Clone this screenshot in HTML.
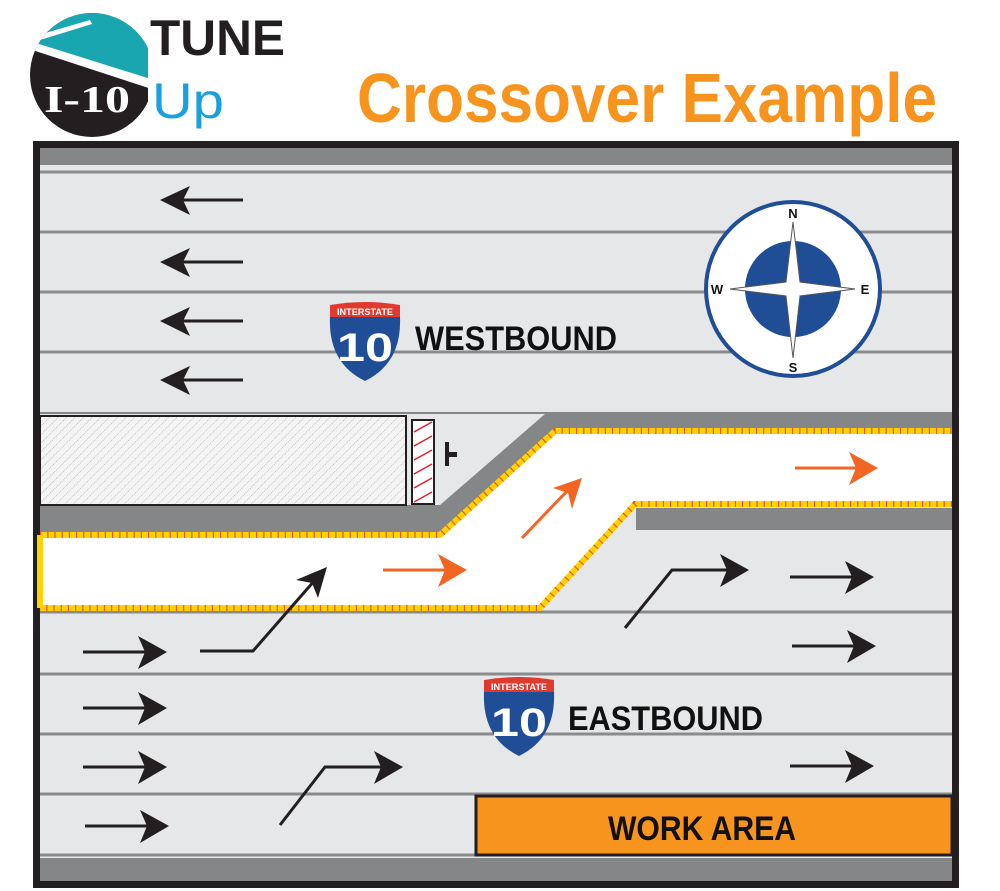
<!DOCTYPE html>
<html><head><meta charset="utf-8"><style>
html,body{margin:0;padding:0;background:#fff;width:1000px;height:891px;overflow:hidden}
svg{display:block}
.t{font-family:"Liberation Sans",sans-serif;font-weight:bold}
</style></head><body>
<svg width="1000" height="891" viewBox="0 0 1000 891" xmlns="http://www.w3.org/2000/svg">
<defs>
<pattern id="hatch" width="6" height="6" patternUnits="userSpaceOnUse" patternTransform="rotate(45)">
<rect width="6" height="6" fill="#f4f4f4"/><line x1="0" y1="0" x2="0" y2="6" stroke="#999" stroke-width="1" stroke-dasharray="1 1"/>
</pattern>
<clipPath id="lc"><circle cx="92" cy="75" r="62"/></clipPath>
</defs>
<!-- logo -->
<g clip-path="url(#lc)">
<rect x="20" y="0" width="150" height="150" fill="#231f20"/>
<polygon points="20,0 170,0 170,90 20,40" fill="#1aa6b0"/>
<polygon points="20,38 170,85 170,95 20,46" fill="#fff"/>
<polygon points="35,36 90,20 92,24 40,40" fill="#fff"/>
</g>
<rect x="148" y="0" width="20" height="140" fill="#fff"/>
<path d="M150,70 L150,100" stroke="#1aa6b0" stroke-width="0"/>
<text x="44" y="112" font-family="Liberation Serif,serif" font-weight="bold" font-size="38" fill="#fff" textLength="86" lengthAdjust="spacingAndGlyphs">I-10</text>
<text x="150" y="55" class="t" font-size="50" fill="#231f20" textLength="135" lengthAdjust="spacingAndGlyphs">TUNE</text>
<text x="152" y="118" font-family="Liberation Sans,sans-serif" font-size="50" fill="#1aa0dc" textLength="72" lengthAdjust="spacingAndGlyphs">Up</text>
<text x="357" y="122" class="t" font-size="70" fill="#f7941d" textLength="580" lengthAdjust="spacingAndGlyphs">Crossover Example</text>
<!-- frame -->
<rect x="33" y="141" width="926" height="747" fill="#231f20"/>
<rect x="40" y="148" width="912" height="733" fill="#e6e7e8"/>
<rect x="40" y="148" width="912" height="17" fill="#858688"/>
<rect x="40" y="858" width="912" height="23" fill="#858688"/>
<g stroke="#8a8b8d" stroke-width="3">
<line x1="40" y1="172" x2="952" y2="172"/>
<line x1="40" y1="232" x2="952" y2="232"/>
<line x1="40" y1="292" x2="952" y2="292"/>
<line x1="40" y1="352" x2="952" y2="352"/>
<line x1="40" y1="674" x2="952" y2="674"/>
<line x1="40" y1="734" x2="952" y2="734"/>
<line x1="40" y1="794" x2="952" y2="794"/>
<line x1="40" y1="855" x2="952" y2="855"/>
<line x1="40" y1="612" x2="952" y2="612"/>
</g>
<!-- median -->
<polygon points="40,412 952,412 952,430 555,430 440,535 40,535" fill="#858688"/>
<polygon points="40,414 545,414 440,505 40,505" fill="#e6e7e8"/>
<rect x="40" y="416" width="366" height="89" fill="url(#hatch)" stroke="#231f20" stroke-width="2"/>
<rect x="412" y="420" width="22" height="84" fill="#fff" stroke="#231f20" stroke-width="2"/>
<g stroke="#e0202a" stroke-width="1.5"><line x1="414" y1="432" x2="432" y2="422"/><line x1="414" y1="446" x2="432" y2="436"/><line x1="414" y1="460" x2="432" y2="450"/><line x1="414" y1="474" x2="432" y2="464"/><line x1="414" y1="488" x2="432" y2="478"/><line x1="414" y1="502" x2="432" y2="492"/></g>
<rect x="445" y="442" width="4" height="24" fill="#231f20"/><rect x="445" y="452" width="12" height="5" fill="#231f20"/>
<rect x="636" y="508" width="316" height="22" fill="#858688"/>
<!-- crossover -->
<polygon points="40,535 440,535 555,431 952,431 952,504 635,504 540,608 40,608" fill="#fff"/>
<g fill="none" stroke-width="6">
<polyline points="40,535 440,535 555,431 952,431" stroke="#ffd200"/>
<polyline points="952,504 635,504 540,608 40,608" stroke="#ffd200"/>
<polyline points="40,535 440,535 555,431 952,431" stroke="#e8562a" stroke-dasharray="1.2 6"/>
<polyline points="952,504 635,504 540,608 40,608" stroke="#e8562a" stroke-dasharray="1.2 6"/>
<line x1="40" y1="535" x2="40" y2="608" stroke="#ffd200"/>
</g>
<!-- arrows -->
<g stroke="#231f20" stroke-width="3" fill="none">
<line x1="243" y1="200" x2="180" y2="200"/><line x1="243" y1="262" x2="180" y2="262"/>
<line x1="243" y1="321" x2="180" y2="321"/><line x1="243" y1="380" x2="180" y2="380"/>
<line x1="83" y1="652" x2="148" y2="652"/><line x1="83" y1="708" x2="148" y2="708"/>
<line x1="83" y1="767" x2="148" y2="767"/><line x1="85" y1="826" x2="150" y2="826"/>
<line x1="790" y1="577" x2="855" y2="577"/><line x1="792" y1="646" x2="857" y2="646"/><line x1="790" y1="766" x2="855" y2="766"/>
<polyline points="200,651 253,651 315,580"/>
<polyline points="625,628 672,570 730,570"/>
<polyline points="280,825 325,767 385,767"/>
</g>
<g fill="#231f20">
<path d="M160,200 L190,186 L183,200 L190,215 Z"/><path d="M160,262 L190,248 L183,262 L190,277 Z"/>
<path d="M160,321 L190,307 L183,321 L190,336 Z"/><path d="M160,380 L190,366 L183,380 L190,395 Z"/>
<path d="M167,652 L138,636 L145,652 L138,669 Z"/>
<path d="M167,708 L138,692 L145,708 L138,725 Z"/><path d="M167,767 L138,751 L145,767 L138,784 Z"/><path d="M169,826 L140,810 L147,826 L140,843 Z"/>
<path d="M874,577 L845,561 L852,577 L845,594 Z"/><path d="M876,646 L847,630 L854,646 L847,663 Z"/><path d="M874,766 L845,750 L852,766 L845,783 Z"/>
<path d="M749,570 L720,554 L727,570 L720,587 Z"/><path d="M403,767 L374,751 L381,767 L374,784 Z"/>
<path d="M327,567 L296,580 L312,583 L318,598 Z"/>
</g>
<g stroke="#f26522" stroke-width="3" fill="#f26522">
<line x1="383" y1="570" x2="450" y2="570"/><path d="M467,570 L438,554 L445,570 L438,587 Z" stroke="none"/>
<line x1="795" y1="468" x2="860" y2="468"/><path d="M878,468 L849,452 L856,468 L849,485 Z" stroke="none"/>
<line x1="522" y1="538" x2="570" y2="488"/><path d="M582,478 L553,488 L568,493 L572,509 Z" stroke="none"/>
</g>
<!-- shields -->
<g transform="translate(328,303)">
<path d="M2,2 Q38,-4 72,2 L72,14 L2,14 Z" fill="#e03a2f"/>
<path d="M2,14 L72,14 Q74,60 37,78 Q0,60 2,14 Z" fill="#1f4e96"/>
<text x="37" y="12" text-anchor="middle" class="t" font-size="9" fill="#fff" textLength="56" lengthAdjust="spacingAndGlyphs">INTERSTATE</text>
<text x="37" y="58" text-anchor="middle" class="t" font-size="40" fill="#fff" textLength="56" lengthAdjust="spacingAndGlyphs">10</text>
</g>
<text x="415" y="350" class="t" font-size="34" fill="#111" textLength="202" lengthAdjust="spacingAndGlyphs">WESTBOUND</text>
<g transform="translate(482,678)">
<path d="M2,2 Q38,-4 72,2 L72,14 L2,14 Z" fill="#e03a2f"/>
<path d="M2,14 L72,14 Q74,60 37,78 Q0,60 2,14 Z" fill="#1f4e96"/>
<text x="37" y="12" text-anchor="middle" class="t" font-size="9" fill="#fff" textLength="56" lengthAdjust="spacingAndGlyphs">INTERSTATE</text>
<text x="37" y="58" text-anchor="middle" class="t" font-size="40" fill="#fff" textLength="56" lengthAdjust="spacingAndGlyphs">10</text>
</g>
<text x="568" y="730" class="t" font-size="34" fill="#111" textLength="195" lengthAdjust="spacingAndGlyphs">EASTBOUND</text>
<!-- compass -->
<circle cx="793" cy="289" r="87" fill="#fff" stroke="#1f4e96" stroke-width="4"/>
<circle cx="793" cy="289" r="48" fill="#1f4e96"/>
<path d="M793,222 L800,282 L855,289 L800,296 L793,358 L786,296 L730,289 L786,282 Z" fill="#fff" stroke="#555" stroke-width="1"/>
<text x="793" y="218" text-anchor="middle" class="t" font-size="13" fill="#111">N</text>
<text x="793" y="372" text-anchor="middle" class="t" font-size="13" fill="#111">S</text>
<text x="717" y="294" text-anchor="middle" class="t" font-size="13" fill="#111">W</text>
<text x="865" y="294" text-anchor="middle" class="t" font-size="13" fill="#111">E</text>
<!-- work area -->
<rect x="476" y="796" width="476" height="59" fill="#f7941d" stroke="#231f20" stroke-width="3"/>
<text x="608" y="840" class="t" font-size="34" fill="#111" textLength="188" lengthAdjust="spacingAndGlyphs">WORK AREA</text>
</svg>
</body></html>
